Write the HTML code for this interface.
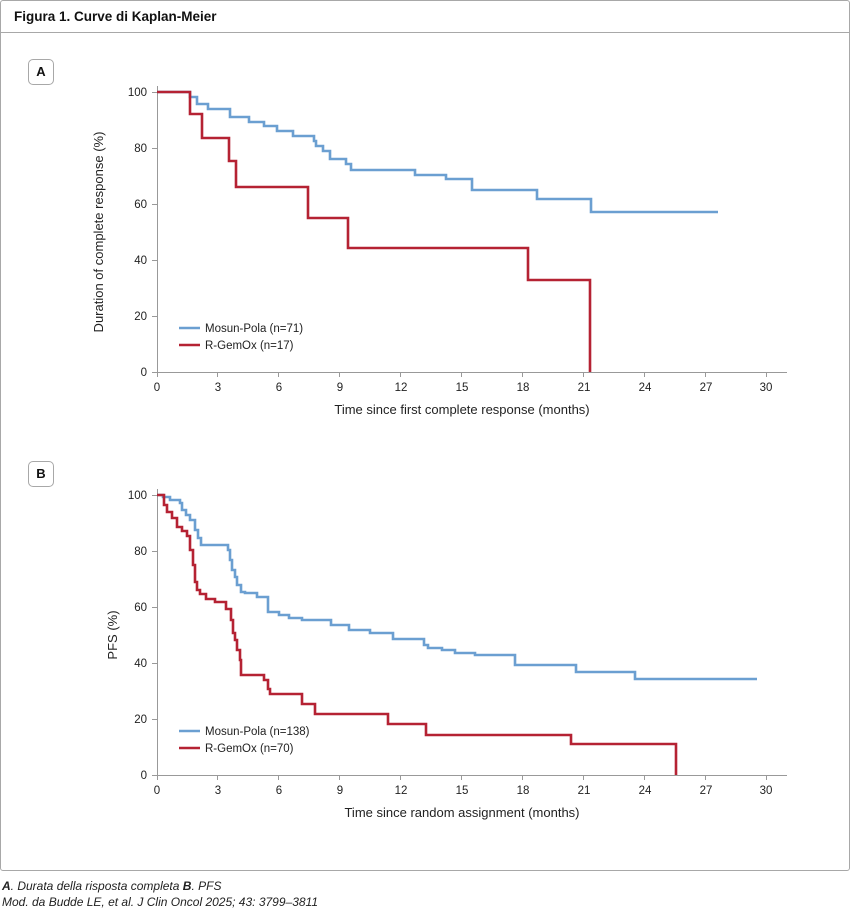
<!DOCTYPE html>
<html><head><meta charset="utf-8"><style>
body{margin:0;background:#fff;font-family:"Liberation Sans",sans-serif;}
.frame{position:absolute;left:0;top:0;width:848px;height:869px;border:1px solid #a8a8a8;border-radius:3px;}
.hdr{position:absolute;left:0;top:0;width:848px;height:31px;border-bottom:1px solid #a8a8a8;}
.hdr span{position:absolute;left:13px;top:8px;font-weight:bold;font-size:13.5px;color:#111;}
.box{position:absolute;width:24px;height:24px;border:1px solid #a8a8a8;border-radius:5px;font-weight:bold;font-size:13px;text-align:center;line-height:24px;color:#111;}
.foot{position:absolute;left:2px;font-style:italic;font-size:12px;color:#222;}
svg{position:absolute;left:0;top:0;}
text{font-family:"Liberation Sans",sans-serif;font-size:11.5px;fill:#222;}
text.t{font-size:13px;}
</style></head><body>
<div class="frame"><div class="hdr"><span>Figura 1. Curve di Kaplan-Meier</span></div></div>
<div class="box" style="left:28px;top:59px">A</div>
<div class="box" style="left:28px;top:461px">B</div>
<div class="foot" style="top:879px"><b>A</b>. Durata della risposta completa <b>B</b>. PFS</div>
<div class="foot" style="top:895px">Mod. da Budde LE, et al. J Clin Oncol 2025; 43: 3799–3811</div>
<svg width="850" height="911">
<g stroke="#999" stroke-width="1" fill="none">
<path d="M157.5 86V372.5H787"/>
<path d="M152 92.5h5M152 148.5h5M152 204.5h5M152 260.5h5M152 316.5h5M152 372.5h5"/>
<path d="M157.5 372v5M217.5 372v5M278.5 372v5M339.5 372v5M400.5 372v5M461.5 372v5M522.5 372v5M583.5 372v5M644.5 372v5M705.5 372v5M766.5 372v5"/>
<path d="M157.5 489V775.5H787"/>
<path d="M152 495.5h5M152 551.5h5M152 607.5h5M152 663.5h5M152 719.5h5M152 775.5h5"/>
<path d="M157.5 775v5M217.5 775v5M278.5 775v5M339.5 775v5M400.5 775v5M461.5 775v5M522.5 775v5M583.5 775v5M644.5 775v5M705.5 775v5M766.5 775v5"/>
</g>
<g text-anchor="end">
<text x="147" y="96">100</text><text x="147" y="152">80</text><text x="147" y="208">60</text><text x="147" y="264">40</text><text x="147" y="320">20</text><text x="147" y="376">0</text>
<text x="147" y="499">100</text><text x="147" y="555">80</text><text x="147" y="611">60</text><text x="147" y="667">40</text><text x="147" y="723">20</text><text x="147" y="779">0</text>
</g>
<g text-anchor="middle">
<text x="157" y="391">0</text><text x="218" y="391">3</text><text x="279" y="391">6</text><text x="340" y="391">9</text><text x="401" y="391">12</text><text x="462" y="391">15</text><text x="523" y="391">18</text><text x="584" y="391">21</text><text x="645" y="391">24</text><text x="706" y="391">27</text><text x="766" y="391">30</text>
<text x="157" y="794">0</text><text x="218" y="794">3</text><text x="279" y="794">6</text><text x="340" y="794">9</text><text x="401" y="794">12</text><text x="462" y="794">15</text><text x="523" y="794">18</text><text x="584" y="794">21</text><text x="645" y="794">24</text><text x="706" y="794">27</text><text x="766" y="794">30</text>
<text class="t" x="462" y="414">Time since first complete response (months)</text>
<text class="t" x="462" y="817">Time since random assignment (months)</text>
<text class="t" transform="translate(103 232) rotate(-90)">Duration of complete response (%)</text>
<text class="t" transform="translate(117 635) rotate(-90)">PFS (%)</text>
</g>
<g fill="none" stroke-width="2.6">
<path stroke="#6b9fd1" d="M157 92H190V97H197V104H208V109H230V117H249V122H264V126H277V131H293V136H314V141H316V146H323V151H330V159H346V164H351V170H415V175H446V179H472V190H537V199H591V212H718"/>
<path stroke="#b52233" d="M157 92H190V114H202V138H229V161H236V187H308V218H348V248H528V280H590V372"/>
<path stroke="#6b9fd1" d="M157 495H163V497H170V500H180V503H182V510H186V515H190V520H195V530H198V538H201V545H228V550H230V560H232V570H235V577H237V585H241V592H245V593H257V597H268V612H279V615H289V618H302V620H331V625H349V630H370V633H393V639H424V645H428V648H442V650H455V653H475V655H515V665H576V672H635V679H757"/>
<path stroke="#b52233" d="M157 495H164V505H167V512H172V518H177V527H182V531H187V536H190V550H193V565H195V582H197V590H200V594H206V599H215V602H226V609H231V620H233V633H235V640H237V650H240V660H241V675H264V680H268V689H270V694H302V704H315V714H388V724H426V735H571V744H676V775"/>
<path stroke="#6b9fd1" d="M179 328H200M179 731H200"/>
<path stroke="#b52233" d="M179 345H200M179 748H200"/>
</g>
<text x="205" y="332">Mosun-Pola (n=71)</text>
<text x="205" y="349">R-GemOx (n=17)</text>
<text x="205" y="735">Mosun-Pola (n=138)</text>
<text x="205" y="752">R-GemOx (n=70)</text>
</svg>
</body></html>
